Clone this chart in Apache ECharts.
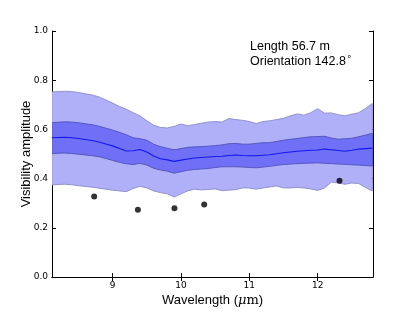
<!DOCTYPE html>
<html><head><meta charset="utf-8">
<script src="https://cdn.jsdelivr.net/npm/echarts@6/dist/echarts.min.js"></script>
<style>html,body{margin:0;padding:0;background:#fff}#c{width:415px;height:312px}</style>
</head><body><div id="c"></div>
<script>
const wavelength = [8.11,8.2,8.3,8.4,8.5,8.6,8.7,8.8,8.9,9.0,9.1,9.2,9.3,9.4,9.5,9.6,9.7,9.8,9.9,10.0,10.1,10.2,10.3,10.4,10.5,10.6,10.7,10.8,10.9,11.0,11.1,11.2,11.3,11.4,11.5,11.6,11.7,11.8,11.9,12.0,12.1,12.2,12.3,12.4,12.5,12.6,12.7,12.8];
const upper2 = [0.752,0.754,0.755,0.754,0.750,0.745,0.740,0.732,0.720,0.707,0.693,0.682,0.668,0.655,0.635,0.617,0.608,0.606,0.612,0.622,0.615,0.620,0.625,0.630,0.632,0.630,0.644,0.640,0.637,0.632,0.624,0.632,0.635,0.640,0.645,0.655,0.663,0.658,0.668,0.684,0.666,0.667,0.660,0.655,0.662,0.668,0.685,0.705];
const lower2 = [0.374,0.376,0.377,0.375,0.371,0.368,0.365,0.361,0.357,0.353,0.350,0.347,0.360,0.369,0.362,0.350,0.343,0.338,0.325,0.338,0.350,0.357,0.354,0.356,0.358,0.351,0.353,0.355,0.362,0.362,0.357,0.362,0.366,0.370,0.362,0.362,0.364,0.362,0.358,0.352,0.362,0.386,0.382,0.377,0.382,0.380,0.364,0.350];
const upper1 = [0.627,0.629,0.631,0.630,0.627,0.623,0.619,0.613,0.605,0.597,0.588,0.578,0.566,0.562,0.556,0.540,0.530,0.523,0.517,0.522,0.527,0.529,0.530,0.532,0.534,0.537,0.542,0.543,0.540,0.540,0.543,0.546,0.546,0.551,0.556,0.560,0.563,0.567,0.570,0.571,0.572,0.565,0.560,0.562,0.564,0.570,0.577,0.584];
const lower1 = [0.501,0.503,0.504,0.502,0.499,0.496,0.493,0.489,0.482,0.474,0.466,0.460,0.457,0.462,0.455,0.442,0.435,0.430,0.422,0.428,0.434,0.437,0.439,0.441,0.445,0.448,0.448,0.448,0.447,0.445,0.444,0.447,0.450,0.454,0.457,0.459,0.461,0.462,0.463,0.464,0.462,0.461,0.459,0.458,0.456,0.455,0.453,0.451];
const meanVis = [0.566,0.567,0.568,0.566,0.563,0.559,0.555,0.549,0.541,0.533,0.522,0.512,0.513,0.518,0.508,0.492,0.481,0.476,0.470,0.475,0.480,0.484,0.486,0.488,0.490,0.491,0.494,0.496,0.494,0.493,0.493,0.495,0.497,0.501,0.505,0.508,0.511,0.513,0.515,0.516,0.520,0.517,0.514,0.511,0.515,0.520,0.522,0.524];
const obsWavelength = [8.73, 9.37, 9.905, 10.34, 12.32];
const obsVis = [0.327, 0.273, 0.279, 0.295, 0.391];
const xTicks = [9, 10, 11, 12];
const xMin = 8.113, xMax = 12.81;

const pair = (xs, ys) => xs.map((x, i) => [x, ys[i]]);

function bandSeries(lower, upper, fill, edge, z) {
  return {
    type: 'custom', z, silent: true, clip: true,
    data: [[xMin, 0]],
    renderItem: function (params, api) {
      const pts = [];
      for (let i = 0; i < wavelength.length; i++) pts.push(api.coord([wavelength[i], upper[i]]));
      for (let i = wavelength.length - 1; i >= 0; i--) pts.push(api.coord([wavelength[i], lower[i]]));
      return {type: 'polygon', shape: {points: pts}, style: {fill: fill, stroke: edge, lineWidth: 0.9}};
    }
  };
}

const chart = echarts.init(document.getElementById('c'), null, {renderer: 'canvas'});
const tickFont = {fontFamily: 'DejaVu Sans', fontSize: 9, color: '#000'};

chart.setOption({
  animation: false,
  grid: {left: 52, right: 42, top: 31, bottom: 31},
  xAxis: [
    {type: 'value', min: xMin, max: xMax, position: 'bottom',
     axisLine: {lineStyle: {color: '#000', width: 1}},
     axisTick: {inside: true, length: 4, customValues: xTicks, lineStyle: {color: '#000'}},
     axisLabel: Object.assign({customValues: xTicks, margin: 4}, tickFont),
     splitLine: {show: false},
     name: 'Wavelength ({mu|μ}{m|m})', nameLocation: 'middle', nameGap: 17, nameMoveOverlap: false,
     nameTextStyle: {fontFamily: 'Liberation Sans', fontSize: 13, color: '#000',
       rich: {mu: {fontFamily: 'DejaVu Serif', fontStyle: 'italic', fontSize: 13}, m: {fontFamily: 'DejaVu Serif', fontSize: 13}}}},
    {type: 'value', min: xMin, max: xMax, position: 'top',
     axisLine: {show: true, lineStyle: {color: '#000', width: 1}},
     axisTick: {inside: true, length: 4, customValues: xTicks, lineStyle: {color: '#000'}},
     axisLabel: {show: false}, splitLine: {show: false}}
  ],
  yAxis: [
    {type: 'value', min: 0, max: 1, interval: 0.2, position: 'left',
     axisLine: {show: true, lineStyle: {color: '#000', width: 1}},
     axisTick: {show: true, inside: true, length: 4, lineStyle: {color: '#000'}},
     axisLabel: Object.assign({margin: 4, formatter: v => v.toFixed(1)}, tickFont),
     splitLine: {show: false},
     name: 'Visibility amplitude', nameLocation: 'middle', nameGap: 19, nameRotate: 90, nameMoveOverlap: false,
     nameTextStyle: {fontFamily: 'Liberation Sans', fontSize: 13, color: '#000'}},
    {type: 'value', min: 0, max: 1, interval: 0.2, position: 'right',
     axisLine: {show: true, lineStyle: {color: '#000', width: 1}},
     axisTick: {show: true, inside: true, length: 4, lineStyle: {color: '#000'}},
     axisLabel: {show: false}, splitLine: {show: false}}
  ],
  graphic: [
    {type: 'text', left: 250, top: 40, z: 100,
     style: {text: 'Length 56.7 m', font: '12.5px "Liberation Sans"', fill: '#000'}},
    {type: 'text', left: 250, top: 55, z: 100,
     style: {text: 'Orientation 142.8{s|°}', font: '12.5px "Liberation Sans"', fill: '#000',
       rich: {s: {fontSize: 9, verticalAlign: 'top', padding: [0, 0, 5, 1], fontFamily: 'DejaVu Sans'}}}}
  ],
  series: [
    bandSeries(lower2, upper2, '#b0b0f9', '#8a8ac8', 1),
    bandSeries(lower1, upper1, '#7070f6', '#5050b8', 2),
    {type: 'line', data: pair(wavelength, meanVis), symbol: 'none', silent: true, z: 4, lineStyle: {color: '#1515f0', width: 1.1}},
    {type: 'scatter', data: pair(obsWavelength, obsVis), symbol: 'circle', symbolSize: 6, itemStyle: {color: '#000'}, z: 5}
  ]
});
</script></body></html>
